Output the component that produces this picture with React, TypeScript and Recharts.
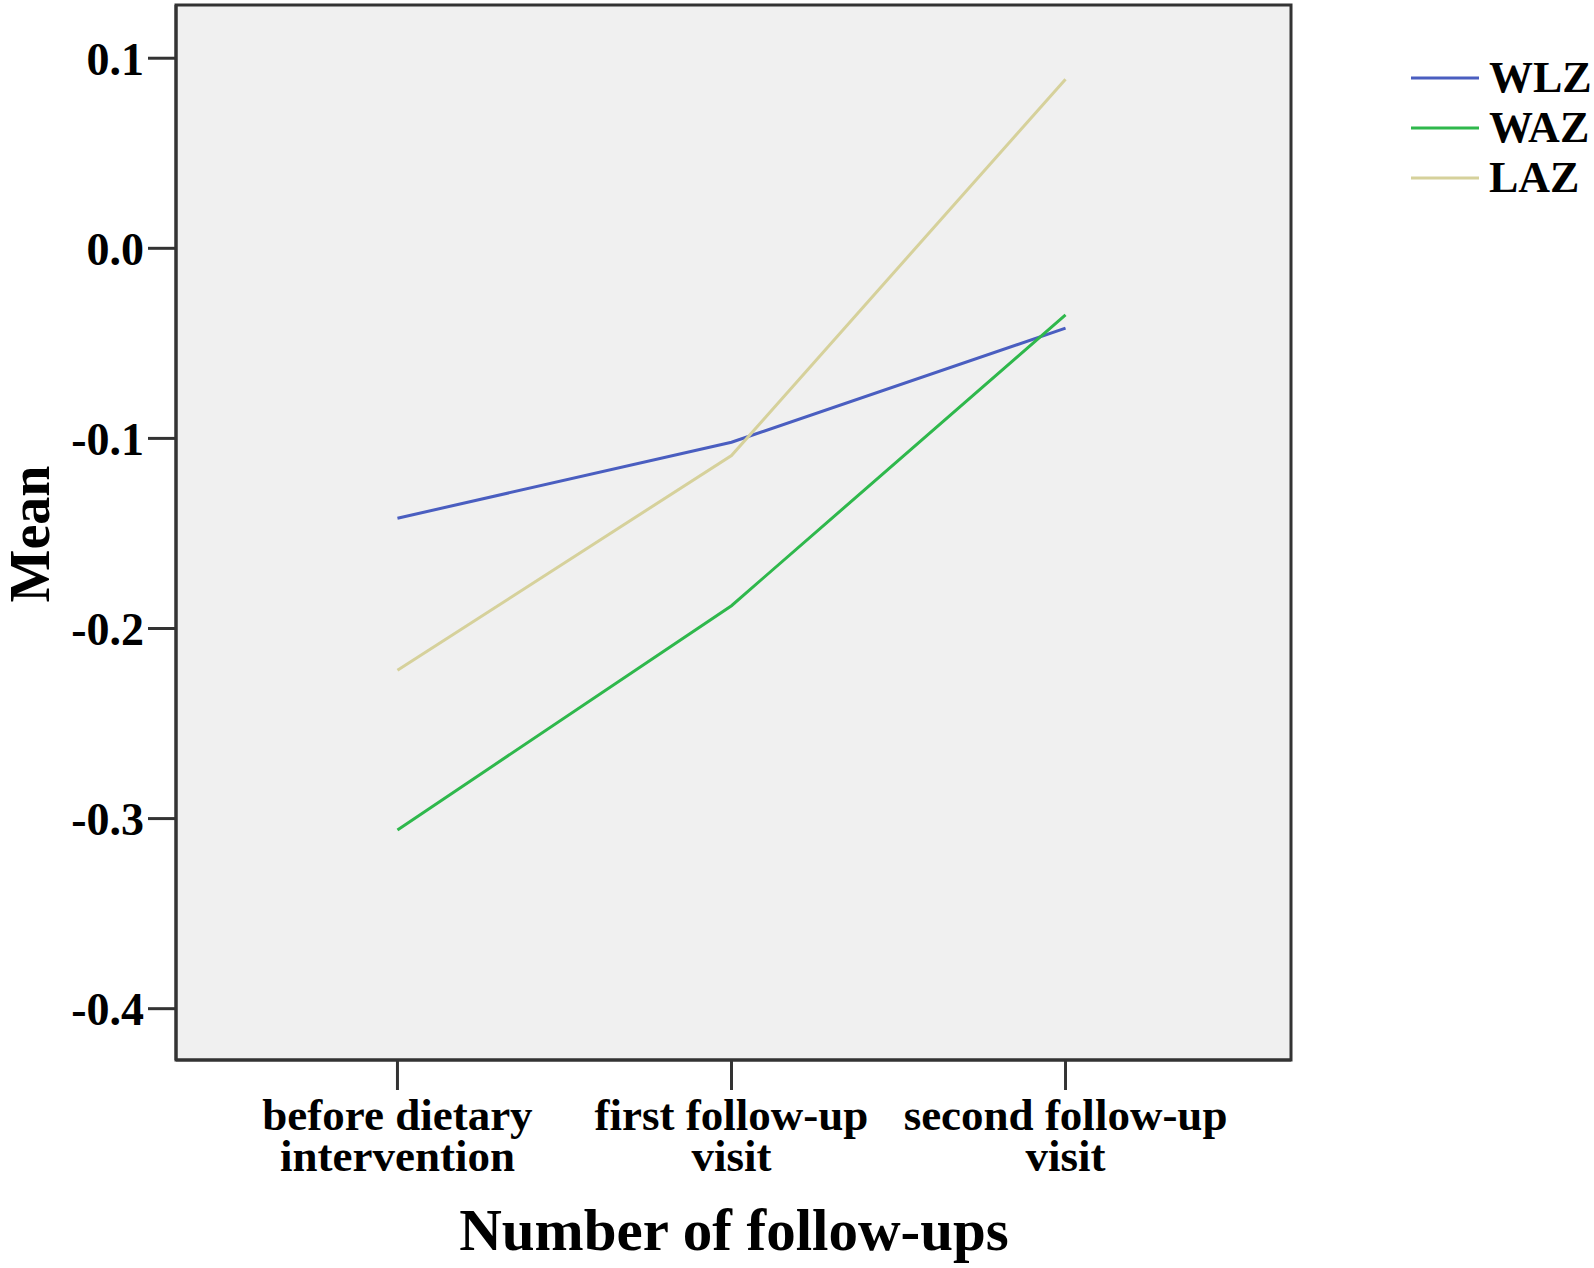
import React from 'react';
import { LineChart, Line, XAxis, YAxis, ReferenceArea } from 'recharts';

const categories = ['before dietary intervention', 'first follow-up visit', 'second follow-up visit'];
const categoryLines = [
  ['before dietary', 'intervention'],
  ['first follow-up', 'visit'],
  ['second follow-up', 'visit'],
];
const wlz = [-0.142, -0.102, -0.042];
const waz = [-0.306, -0.188, -0.035];
const laz = [-0.222, -0.109, 0.089];
const yTicks = [-0.4, -0.3, -0.2, -0.1, 0.0, 0.1];
const seriesNames = ['WLZ', 'WAZ', 'LAZ'];
const seriesColors = ['#4a5ec0', '#2fb84c', '#d6d19b'];

const data = categories.map((c, i) => ({ idx: i, cat: c, WLZ: wlz[i], WAZ: waz[i], LAZ: laz[i] }));
const xTicks = categories.map((_, i) => i);

const FONT = '"Liberation Serif", "Times New Roman", serif';
const Y_MIN = -0.427;
const Y_MAX = 0.128;
const X_MIN = -0.663;
const X_MAX = 2.675;

const XTick = (props: any) => {
  const { x, y, payload } = props;
  const lines = categoryLines[payload.value] || [String(payload.value)];
  return (
    <text x={x} y={y} textAnchor="middle" fontFamily={FONT} fontWeight="bold" fontSize={45} fill="#000">
      {lines.map((l, i) => (
        <tspan key={i} x={x} dy={i === 0 ? 40 : 41}>{l}</tspan>
      ))}
    </text>
  );
};

const LegendBox = () => (
  <div style={{ position: 'absolute', left: 1411, top: 53, fontFamily: FONT, fontWeight: 'bold', fontSize: 44, color: '#000' }}>
    {seriesNames.map((n, i) => (
      <div key={n} style={{ display: 'flex', alignItems: 'center', height: 50 }}>
        <svg width={68} height={6} style={{ marginRight: 10 }}>
          <line x1={0} y1={3} x2={68} y2={3} stroke={seriesColors[i]} strokeWidth={3} />
        </svg>
        <span style={{ lineHeight: '50px' }}>{n}</span>
      </div>
    ))}
  </div>
);

export default function App() {
  return (
    <div style={{ position: 'absolute', left: 0, top: 0, width: 1594, height: 1268, background: '#fff' }}>
      <LineChart width={1594} height={1268} data={data} margin={{ top: 5, right: 303, bottom: 0, left: 0 }}>
        <XAxis
          dataKey="idx"
          type="number"
          domain={[X_MIN, X_MAX]}
          allowDataOverflow
          ticks={xTicks}
          height={208}
          tickSize={30}
          tickMargin={0}
          axisLine={{ stroke: '#333', strokeWidth: 3 }}
          tickLine={{ stroke: '#333', strokeWidth: 3 }}
          tick={<XTick />}
          interval={0}
          label={{
            content: () => (
              <text x={734} y={1250} textAnchor="middle" fontFamily={FONT} fontWeight="bold" fontSize={59} fill="#000">
                Number of follow-ups
              </text>
            ),
          }}
        />
        <YAxis
          domain={[Y_MIN, Y_MAX]}
          allowDataOverflow
          ticks={yTicks}
          width={176}
          tickSize={28}
          tickMargin={4}
          tickFormatter={(v: number) => v.toFixed(1)}
          axisLine={{ stroke: '#333', strokeWidth: 3 }}
          tickLine={{ stroke: '#333', strokeWidth: 3 }}
          tick={{ fontFamily: FONT, fontWeight: 'bold', fontSize: 46, fill: '#000' }}
          label={{
            content: () => (
              <text x={0} y={0} transform="translate(49 534) rotate(-90)" textAnchor="middle" fontFamily={FONT} fontWeight="bold" fontSize={56} fill="#000">
                Mean
              </text>
            ),
          }}
        />
        <ReferenceArea x1={X_MIN} x2={X_MAX} y1={Y_MIN} y2={Y_MAX} fill="#f0f0f0" fillOpacity={1} stroke="#333" strokeWidth={3} />
        {seriesNames.map((n, i) => (
          <Line key={n} dataKey={n} stroke={seriesColors[i]} strokeWidth={3} dot={false} isAnimationActive={false} />
        ))}
      </LineChart>
      <LegendBox />
    </div>
  );
}
